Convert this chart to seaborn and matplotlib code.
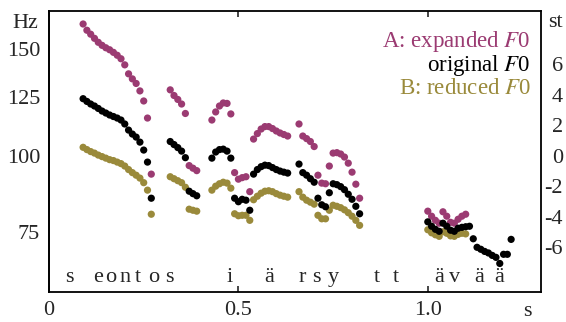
import numpy as np
import pandas as pd
import seaborn as sns
import matplotlib.pyplot as plt

# frame times (s), 10 ms steps, shared by the three contours
t_frames = [0.09, 0.10, 0.11, 0.12, 0.13, 0.14, 0.15, 0.16, 0.17, 0.18, 0.19, 0.20, 0.21, 0.22, 0.23, 0.24, 0.25, 0.26, 0.27,
            0.32, 0.33, 0.34, 0.35, 0.36, 0.37, 0.38, 0.39,
            0.43, 0.44, 0.45, 0.46, 0.47, 0.48,
            0.49, 0.50, 0.51, 0.52, 0.53,
            0.54, 0.55, 0.56, 0.57, 0.58, 0.59, 0.60, 0.61, 0.62, 0.63,
            0.66, 0.67, 0.68, 0.69, 0.70, 0.71, 0.72, 0.73, 0.74, 0.75, 0.76, 0.77, 0.78, 0.79, 0.80, 0.81, 0.82,
            1.00, 1.01, 1.02, 1.03, 1.04, 1.05, 1.06, 1.07, 1.08, 1.09, 1.10]
# only the original contour goes on after 1.10 s
t_tail = [1.11, 1.12, 1.13, 1.14, 1.15, 1.16, 1.17, 1.18, 1.19, 1.20, 1.21, 1.22]

# F0 in semitones re 100 Hz
f0_original = [3.75, 3.57, 3.40, 3.27, 3.11, 2.94, 2.81, 2.68, 2.58, 2.48, 2.35, 2.09, 1.69, 1.43, 1.23, 0.90, 0.38, -0.41, -2.78,
               0.94, 0.74, 0.54, 0.31, -0.12, -2.32, -2.48, -2.62,
               -0.15, 0.25, 0.41, 0.44, 0.31, -0.15,
               -2.78, -3.01, -2.85, -2.91, -3.57,
               -1.20, -0.90, -0.71, -0.61, -0.64, -0.77, -0.90, -1.00, -1.07, -1.13,
               -0.54, -1.10, -1.27, -1.50, -1.73, -2.78, -3.21, -3.34, -2.42, -1.83, -1.89, -2.02, -2.22, -2.52, -2.85, -3.31, -3.80,
               -4.33, -4.62, -4.82, -4.95, -4.42, -4.62, -4.88, -4.95, -4.75, -4.69, -4.65]
f0_original_tail = [-4.62, -5.44, -6.00, -6.13, -6.27, -6.37, -6.53, -6.66, -7.06, -6.46, -6.46, -5.48]

f0_expanded = [8.65, 8.24, 7.98, 7.71, 7.45, 7.25, 7.09, 6.96, 6.79, 6.60, 6.37, 5.97, 5.38, 5.05, 4.75, 4.26, 3.60, 2.48, -1.20,
               4.33, 3.96, 3.70, 3.40, 2.78, -0.64, -0.81, -0.97,
               2.35, 2.88, 3.27, 3.47, 3.44, 2.75,
               -1.10, -1.53, -1.43, -1.37, -2.35,
               1.10, 1.46, 1.76, 1.92, 1.92, 1.79, 1.63, 1.50, 1.40, 1.30,
               2.09, 1.30, 1.13, 0.94, 0.61, -1.27, -1.79, -1.83, -0.67, 0.18, 0.21, 0.12, -0.08, -0.48, -1.07, -1.86, -2.78,
               -3.63, -3.96, -4.23, -4.42, -3.67, -3.96, -4.36, -4.42, -4.16, -3.96, -3.83]

f0_reduced = [0.56, 0.41, 0.28, 0.18, 0.05, -0.05, -0.15, -0.25, -0.31, -0.41, -0.51, -0.67, -0.90, -1.10, -1.27, -1.46, -1.76, -2.25, -3.83,
              -1.37, -1.50, -1.63, -1.76, -2.06, -3.50, -3.57, -3.63,
              -2.25, -1.99, -1.83, -1.73, -1.79, -2.12,
              -3.80, -3.93, -3.90, -3.90, -4.23,
              -2.88, -2.65, -2.45, -2.32, -2.29, -2.35, -2.48, -2.58, -2.65, -2.71,
              -2.35, -2.71, -2.91, -3.04, -3.17, -3.90, -4.13, -4.13, -3.57, -3.24, -3.31, -3.40, -3.54, -3.73, -3.96, -4.23, -4.56,
              -4.85, -5.05, -5.18, -5.28, -4.98, -5.08, -5.25, -5.28, -5.15, -5.08, -5.12]

# segment labels along the bottom
phones = ['s', 'e', 'o', 'n', 't', 'o', 's', 'i', 'ä', 'r', 's', 'y', 't', 't', 'ä', 'v', 'ä', 'ä']
phone_t = [0.053, 0.129, 0.164, 0.201, 0.235, 0.277, 0.318, 0.478, 0.581, 0.668, 0.705, 0.750,
           0.866, 0.917, 1.030, 1.070, 1.136, 1.189]

hz_ticks = [75, 100, 125, 150]
st_ticks = [-6, -4, -2, 0, 2, 4, 6]

c_exp = '#9b3b72'
c_red = '#9a8a3b'
c_org = 'black'

sns.set_style('ticks')
plt.rcParams['font.family'] = ['Liberation Serif', 'DejaVu Serif']
plt.rcParams['mathtext.fontset'] = 'stix'
plt.rcParams['axes.unicode_minus'] = False
FS = 16

# order of rows = drawing order (original on top)
df = pd.concat([
    pd.DataFrame({'t': t_frames, 'st': f0_expanded, 'kind': 'expanded'}),
    pd.DataFrame({'t': t_frames, 'st': f0_reduced, 'kind': 'reduced'}),
    pd.DataFrame({'t': t_frames + t_tail, 'st': f0_original + f0_original_tail, 'kind': 'original'}),
], ignore_index=True)

fig = plt.figure(figsize=(5.66, 3.22), dpi=100)
ax = fig.add_axes([0.0866, 0.0947, 0.870, 0.871])

sns.scatterplot(data=df, x='t', y='st', hue='kind',
                palette={'expanded': c_exp, 'reduced': c_red, 'original': c_org},
                s=27, linewidth=0, alpha=1, legend=False, ax=ax)

ax.set_xlim(0, 1.30)
ax.set_ylim(-8.9, 9.5)
ax.set_xlabel('')
ax.set_ylabel('')

for sp in ax.spines.values():
    sp.set_visible(True)
    sp.set_linewidth(1.3)
    sp.set_color('black')

ax.set_xticks([0, 0.5, 1.0])
ax.set_xticklabels(['0', '0.5', '1.0'])
ax.tick_params(axis='x', direction='in', top=True, length=4, width=1.2, labelsize=FS, pad=7)

# semitone scale on the right
ax.yaxis.tick_right()
ax.set_yticks(st_ticks)
ax.set_yticklabels([str(v) for v in st_ticks])
ax.tick_params(axis='y', length=0, labelsize=FS, pad=15.5)
for lab in ax.get_yticklabels():
    lab.set_horizontalalignment('right')

# Hz scale on the left
def st2hz(x):
    return 100.0 * 2.0 ** (np.asarray(x) / 12.0)

def hz2st(x):
    x = np.clip(np.asarray(x, dtype=float), 1e-6, None)
    return 12.0 * np.log2(x / 100.0)

sec = ax.secondary_yaxis('left', functions=(st2hz, hz2st))
sec.set_yticks(hz_ticks)
sec.set_yticklabels([str(v) for v in hz_ticks])
sec.tick_params(length=0, labelsize=FS, pad=6.5)
sec.spines['left'].set_linewidth(1.3)

ax.text(-0.022, 0.939, 'Hz', transform=ax.transAxes, ha='right', va='baseline', fontsize=FS)
ax.text(1.044, 0.943, 'st', transform=ax.transAxes, ha='right', va='baseline', fontsize=FS)
ax.text(0.971, -0.088, 's', transform=ax.transAxes, ha='center', va='baseline', fontsize=FS)

# legend as coloured text
LFS = 16.5
ax.text(0.978, 0.871, 'A: expanded $F$0', color=c_exp, transform=ax.transAxes,
        ha='right', va='baseline', fontsize=LFS)
ax.text(0.978, 0.788, 'original $F$0', color=c_org, transform=ax.transAxes,
        ha='right', va='baseline', fontsize=LFS)
ax.text(0.978, 0.705, 'B: reduced $F$0', color=c_red, transform=ax.transAxes,
        ha='right', va='baseline', fontsize=LFS)

for p, t in zip(phones, phone_t):
    ax.text(t, 0.034, p, transform=ax.get_xaxis_transform(), ha='center', va='baseline', fontsize=FS)

fig.savefig('out.png', dpi=100)
